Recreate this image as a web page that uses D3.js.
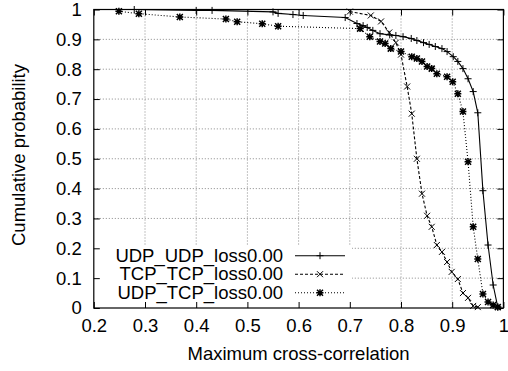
<!DOCTYPE html>
<html>
<head>
<meta charset="utf-8">
<script src="https://cdn.jsdelivr.net/npm/d3@7"></script>
<style>
  body { margin: 0; background: #fff; }
  text { font-family: "Liberation Sans", Arial, sans-serif; fill: #000; }
</style>
</head>
<body>
<script>
// CDF of maximum cross-correlation, three runs

// UDP_UDP_loss0.00 (solid, + marks)
var udpUdpX = [0.279, 0.400, 0.431, 0.550, 0.560, 0.589, 0.609, 0.691, 0.714, 0.726, 0.734, 0.745,
               0.759, 0.778, 0.790, 0.804, 0.820, 0.831, 0.844, 0.855, 0.867, 0.880, 0.890, 0.902,
               0.911, 0.921, 0.931, 0.941, 0.950, 0.960, 0.970, 0.980, 0.989];
var udpUdpY = [1.000, 0.997, 0.997, 0.992, 0.987, 0.983, 0.980, 0.973, 0.953, 0.946, 0.940, 0.930,
               0.919, 0.915, 0.913, 0.909, 0.903, 0.896, 0.889, 0.883, 0.876, 0.869, 0.859, 0.842,
               0.826, 0.802, 0.768, 0.725, 0.654, 0.393, 0.211, 0.077, 0.003];

// TCP_TCP_loss0.00 (dashed, x marks)
var tcpTcpX = [0.700, 0.741, 0.761, 0.777, 0.790, 0.800, 0.812, 0.821, 0.831, 0.841, 0.851, 0.860,
               0.870, 0.880, 0.890, 0.899, 0.911, 0.921, 0.931, 0.941, 0.950];
var tcpTcpY = [0.993, 0.980, 0.960, 0.923, 0.889, 0.849, 0.742, 0.651, 0.500, 0.383, 0.309, 0.272,
               0.211, 0.188, 0.154, 0.121, 0.097, 0.050, 0.034, 0.007, 0.003];

// UDP_TCP_loss0.00 (dotted, * marks)
var udpTcpX = [0.249, 0.288, 0.368, 0.458, 0.480, 0.529, 0.560, 0.720, 0.739, 0.759, 0.769, 0.780,
               0.800, 0.821, 0.831, 0.841, 0.851, 0.860, 0.870, 0.890, 0.901, 0.911, 0.921, 0.931,
               0.941, 0.950, 0.960, 0.970, 0.980, 0.989];
var udpTcpY = [0.994, 0.986, 0.975, 0.968, 0.959, 0.952, 0.944, 0.936, 0.909, 0.893, 0.886, 0.869,
               0.859, 0.842, 0.836, 0.826, 0.809, 0.802, 0.785, 0.775, 0.758, 0.718, 0.658, 0.490,
               0.272, 0.164, 0.047, 0.020, 0.010, 0.003];

var seriesNames = ["UDP_UDP_loss0.00", "TCP_TCP_loss0.00", "UDP_TCP_loss0.00"];
var xTicks = [0.2, 0.3, 0.4, 0.5, 0.6, 0.7, 0.8, 0.9, 1];
var yTicks = [0, 0.1, 0.2, 0.3, 0.4, 0.5, 0.6, 0.7, 0.8, 0.9, 1];

const w = 508;
const h = 371;
const pLeft = 93.8, pRight = 503.4, pTop = 9.5, pBottom = 308;
const fontSize = "18.5px";

var svg = d3.select("body").append("svg")
            .attr("width", w)
            .attr("height", h);

var xScale = d3.scaleLinear().domain([0.2, 1]).range([pLeft, pRight]);
var yScale = d3.scaleLinear().domain([0, 1]).range([pBottom, pTop]);

// grid lines
svg.selectAll(".vgrid")
   .data(xTicks.slice(1, -1))
   .enter().append("line")
   .attr("x1", d => xScale(d)).attr("x2", d => xScale(d))
   .attr("y1", pTop).attr("y2", pBottom)
   .attr("stroke", "#888").attr("stroke-width", 1)
   .attr("stroke-dasharray", "1,2");
svg.selectAll(".hgrid")
   .data(yTicks.slice(1, -1))
   .enter().append("line")
   .attr("x1", pLeft).attr("x2", pRight)
   .attr("y1", d => yScale(d)).attr("y2", d => yScale(d))
   .attr("stroke", "#888").attr("stroke-width", 1)
   .attr("stroke-dasharray", "1,2");

// opaque key box hides the grid behind it
svg.append("rect")
   .attr("x", pLeft).attr("y", 246)
   .attr("width", 352 - pLeft).attr("height", pBottom - 246)
   .attr("fill", "#fff");

// axes: ticks inside, mirrored on top and right
var axB = svg.append("g").attr("transform", "translate(0," + pBottom + ")")
             .call(d3.axisBottom(xScale).tickValues(xTicks).tickSizeInner(-6).tickSizeOuter(0)
                     .tickPadding(11).tickFormat(d3.format("")));
var axT = svg.append("g").attr("transform", "translate(0," + pTop + ")")
             .call(d3.axisTop(xScale).tickValues(xTicks).tickSizeInner(-6).tickSizeOuter(0)
                     .tickFormat(""));
var axL = svg.append("g").attr("transform", "translate(" + pLeft + ",0)")
             .call(d3.axisLeft(yScale).tickValues(yTicks).tickSizeInner(-6).tickSizeOuter(0)
                     .tickPadding(12).tickFormat(d3.format("")));
var axR = svg.append("g").attr("transform", "translate(" + pRight + ",0)")
             .call(d3.axisRight(yScale).tickValues(yTicks).tickSizeInner(-6).tickSizeOuter(0)
                     .tickFormat(""));
[axB, axT, axL, axR].forEach(function(a) {
  a.select(".domain").remove();
  a.selectAll("line").attr("stroke", "#000");
  a.selectAll("text").style("font-size", fontSize)
   .style("font-family", "'Liberation Sans', Arial, sans-serif");
});

// frame
svg.append("rect")
   .attr("x", pLeft).attr("y", pTop)
   .attr("width", pRight - pLeft).attr("height", pBottom - pTop)
   .attr("fill", "none").attr("stroke", "#000").attr("stroke-width", 1.2);

// axis titles
svg.append("text")
   .attr("x", (pLeft + pRight) / 2).attr("y", 360)
   .style("text-anchor", "middle").style("font-size", fontSize)
   .text("Maximum cross-correlation");
svg.append("text")
   .attr("transform", "translate(25,155) rotate(-90)")
   .style("text-anchor", "middle").style("font-size", fontSize)
   .text("Cumulative probability");

// marker path builders
function plus(x, y) {
  var s = 3.5;
  return "M" + (x - s) + "," + y + "H" + (x + s) + "M" + x + "," + (y - s) + "V" + (y + s);
}
function cross(x, y) {
  var s = 3;
  return "M" + (x - s) + "," + (y - s) + "L" + (x + s) + "," + (y + s) +
         "M" + (x - s) + "," + (y + s) + "L" + (x + s) + "," + (y - s);
}
function star(x, y) {
  return plus(x, y) + cross(x, y);
}

var series = [
  {name: seriesNames[0], xs: udpUdpX, ys: udpUdpY, dash: null, mark: plus, mw: 1},
  {name: seriesNames[1], xs: tcpTcpX, ys: tcpTcpY, dash: "3,2", mark: cross, mw: 1},
  {name: seriesNames[2], xs: udpTcpX, ys: udpTcpY, dash: "1,2", mark: star, mw: 1.5}
];

var line = d3.line().x(d => xScale(d[0])).y(d => yScale(d[1]));

series.forEach(function(s, k) {
  var pts = s.xs.map((x, i) => [x, s.ys[i]]);
  svg.append("path")
     .attr("d", line(pts))
     .attr("fill", "none").attr("stroke", "#000").attr("stroke-width", 1.1)
     .attr("stroke-dasharray", s.dash);
  svg.append("path")
     .attr("d", pts.map(p => s.mark(xScale(p[0]), yScale(p[1]))).join(""))
     .attr("fill", "none").attr("stroke", "#000").attr("stroke-width", s.mw);

  // key entry
  var ky = 255.7 + k * 18.5;
  svg.append("text")
     .attr("x", 283).attr("y", ky + 6.2)
     .style("text-anchor", "end").style("font-size", fontSize)
     .text(s.name);
  svg.append("line")
     .attr("x1", 295).attr("x2", 345).attr("y1", ky).attr("y2", ky)
     .attr("stroke", "#000").attr("stroke-width", 1.1)
     .attr("stroke-dasharray", s.dash);
  svg.append("path")
     .attr("d", s.mark(320, ky))
     .attr("fill", "none").attr("stroke", "#000").attr("stroke-width", s.mw);
});
</script>
</body>
</html>
